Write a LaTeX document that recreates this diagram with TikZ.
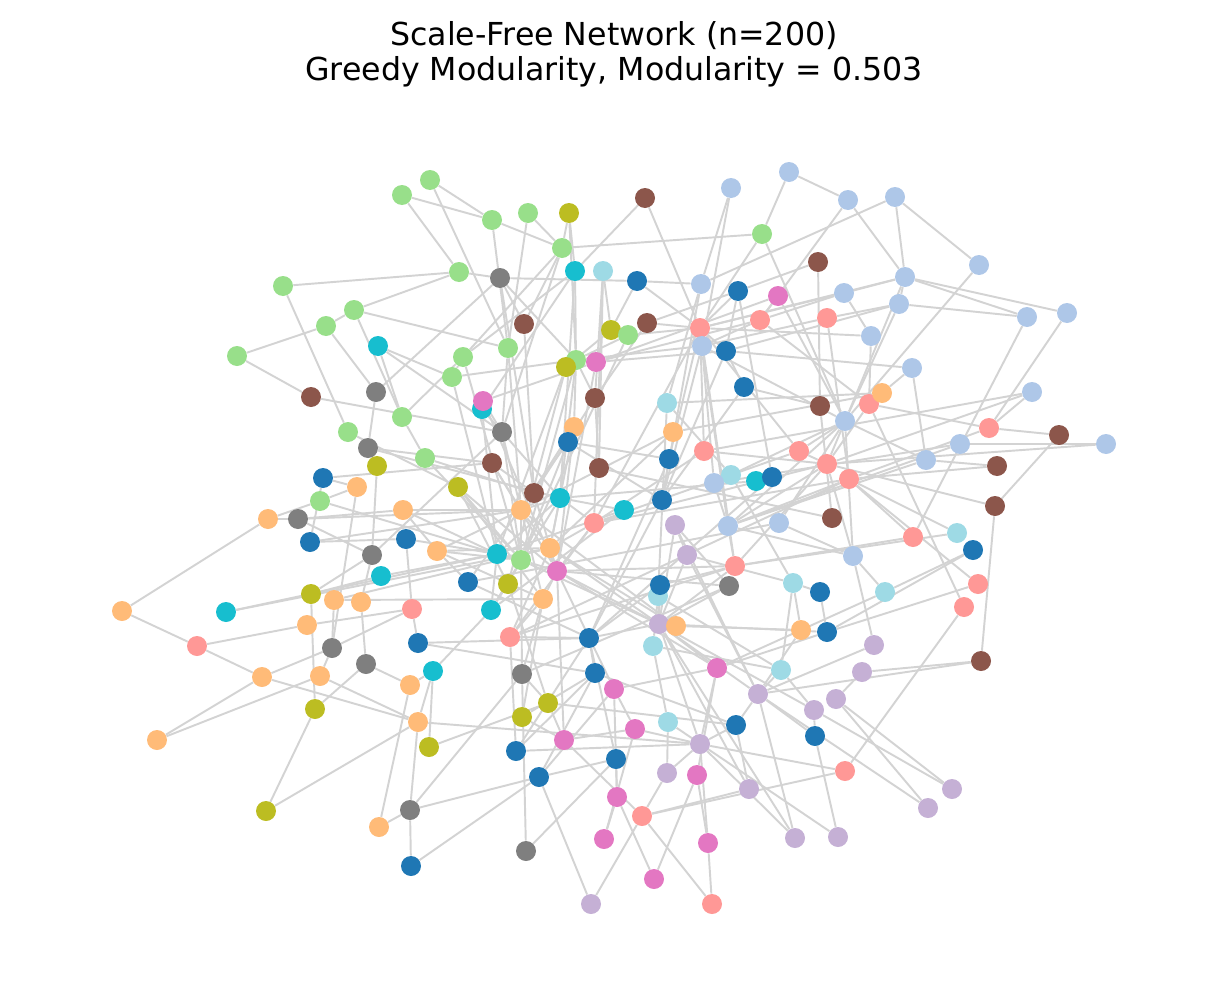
\documentclass[tikz,border=0pt]{standalone}
\usepackage{fontspec}
\setmainfont{DejaVu Sans}
\usepackage{tikz}
\usetikzlibrary{backgrounds}
\definecolor{cBlue}{RGB}{31,119,180}
\definecolor{cLBlue}{RGB}{174,199,232}
\definecolor{cOrange}{RGB}{255,187,120}
\definecolor{cGreen}{RGB}{152,223,138}
\definecolor{cRed}{RGB}{255,152,150}
\definecolor{cBrown}{RGB}{140,86,75}
\definecolor{cPink}{RGB}{227,119,194}
\definecolor{cGray}{RGB}{127,127,127}
\definecolor{cOlive}{RGB}{188,189,34}
\definecolor{cCyan}{RGB}{23,190,207}
\definecolor{cLCyan}{RGB}{158,218,229}
\definecolor{cLPurple}{RGB}{197,176,213}
\definecolor{edgeGray}{RGB}{211,211,211}
\tikzset{
  vertex/.style={circle, inner sep=0pt, minimum size=0.4cm, draw=none},
  link/.style={draw=edgeGray, line width=1.1pt},
  titleText/.style={anchor=base, font=\fontsize{18}{21}\selectfont}
}

\begin{document}
\begin{tikzpicture}[x=0.02cm, y=-0.02cm]
  \useasboundingbox (0,0) rectangle (1228,1001);
  \node[titleText] (title) at (614,45) {Scale-Free Network (n=200)};
  \node[titleText] (subtitle) at (614,80) {Greedy Modularity, Modularity = 0.503};

  % nodes, coloured by community
  \foreach \i/\x/\y/\col in {
    1/430/180/cGreen, 2/402/195/cGreen, 3/492/220/cGreen, 4/528/213/cGreen,
    5/569/213/cOlive, 6/645/198/cBrown, 7/731/188/cLBlue, 8/789/172/cLBlue,
    9/848/200/cLBlue, 10/895/197/cLBlue, 11/762/234/cGreen, 12/562/248/cGreen,
    13/283/286/cGreen, 14/459/272/cGreen, 15/500/278/cGray, 16/575/271/cCyan,
    17/603/271/cLCyan, 18/637/281/cBlue, 19/701/284/cLBlue, 20/738/291/cBlue,
    21/778/296/cPink, 22/818/262/cBrown, 23/844/293/cLBlue, 24/905/277/cLBlue,
    25/979/265/cLBlue, 26/899/304/cLBlue, 27/1027/317/cLBlue, 28/1067/313/cLBlue,
    29/354/310/cGreen, 30/326/326/cGreen, 31/524/324/cBrown, 32/611/330/cOlive,
    33/628/335/cGreen, 34/647/323/cBrown, 35/700/328/cRed, 36/760/320/cRed,
    37/827/318/cRed, 38/871/336/cLBlue, 39/237/356/cGreen, 40/378/346/cCyan,
    41/463/357/cGreen, 42/508/348/cGreen, 43/576/360/cGreen, 44/596/362/cPink,
    45/566/367/cOlive, 46/702/346/cLBlue, 47/726/351/cBlue, 48/912/368/cLBlue,
    49/452/377/cGreen, 50/376/392/cGray, 51/311/397/cBrown, 53/482/409/cCyan,
    52/483/401/cPink, 54/595/398/cBrown, 55/667/403/cLCyan, 56/744/387/cBlue,
    57/820/406/cBrown, 58/869/404/cRed, 59/882/393/cOrange, 60/845/421/cLBlue,
    61/1032/392/cLBlue, 62/402/417/cGreen, 63/348/432/cGreen, 64/368/448/cGray,
    65/502/432/cGray, 66/574/427/cOrange, 67/568/442/cBlue, 68/673/432/cOrange,
    69/704/451/cRed, 70/799/451/cRed, 71/960/444/cLBlue, 72/989/428/cRed,
    73/1059/435/cBrown, 74/1106/444/cLBlue, 75/377/466/cOlive, 76/425/458/cGreen,
    77/492/463/cBrown, 78/599/468/cBrown, 79/669/459/cBlue, 80/731/475/cLCyan,
    81/756/481/cCyan, 82/772/477/cBlue, 83/714/483/cLBlue, 84/827/464/cRed,
    85/849/479/cRed, 86/926/460/cLBlue, 87/997/466/cBrown, 88/323/478/cBlue,
    89/357/487/cOrange, 90/458/487/cOlive, 91/320/501/cGreen, 92/534/493/cBrown,
    93/560/498/cCyan, 94/624/510/cCyan, 95/662/500/cBlue, 96/268/519/cOrange,
    97/298/519/cGray, 98/403/510/cOrange, 99/521/510/cOrange, 100/594/523/cRed,
    101/675/525/cLPurple, 102/728/526/cLBlue, 103/779/523/cLBlue, 104/832/518/cBrown,
    105/995/506/cBrown, 106/310/542/cBlue, 107/406/539/cBlue, 108/437/551/cOrange,
    109/372/555/cGray, 110/497/554/cCyan, 111/521/560/cGreen, 112/550/548/cOrange,
    113/557/571/cPink, 114/687/555/cLPurple, 115/735/566/cRed, 116/853/556/cLBlue,
    117/913/537/cRed, 118/957/533/cLCyan, 119/973/550/cBlue, 120/381/576/cCyan,
    121/468/582/cBlue, 122/508/584/cOlive, 123/543/599/cOrange, 124/658/596/cLCyan,
    125/660/585/cBlue, 126/729/586/cGray, 127/793/583/cLCyan, 128/820/592/cBlue,
    129/885/592/cLCyan, 130/978/584/cRed, 131/122/611/cOrange, 132/226/612/cCyan,
    133/311/594/cOlive, 134/334/600/cOrange, 135/361/602/cOrange, 136/412/609/cRed,
    137/491/610/cCyan, 138/964/607/cRed, 139/307/625/cOrange, 140/510/637/cRed,
    141/589/638/cBlue, 142/659/624/cLPurple, 143/676/626/cOrange, 144/801/630/cOrange,
    145/827/632/cBlue, 146/197/646/cRed, 147/332/648/cGray, 148/418/643/cBlue,
    149/653/646/cLCyan, 150/874/645/cLPurple, 151/366/664/cGray, 152/262/677/cOrange,
    153/320/676/cOrange, 154/433/671/cCyan, 155/522/674/cGray, 156/595/673/cBlue,
    157/717/668/cPink, 158/781/670/cLCyan, 159/862/672/cLPurple, 160/981/661/cBrown,
    161/410/685/cOrange, 162/614/689/cPink, 163/758/694/cLPurple, 164/836/699/cLPurple,
    165/315/709/cOlive, 166/548/703/cOlive, 167/418/722/cOrange, 168/522/717/cOlive,
    169/668/722/cLCyan, 170/635/729/cPink, 171/736/725/cBlue, 172/814/710/cLPurple,
    173/157/740/cOrange, 174/429/747/cOlive, 175/516/751/cBlue, 176/564/740/cPink,
    177/700/744/cLPurple, 178/815/736/cBlue, 179/616/759/cBlue, 180/845/771/cRed,
    181/539/777/cBlue, 182/667/773/cLPurple, 183/697/775/cPink, 184/749/789/cLPurple,
    185/952/789/cLPurple, 186/928/808/cLPurple, 187/266/811/cOlive, 188/410/810/cGray,
    189/617/797/cPink, 190/642/816/cRed, 191/379/827/cOrange, 192/795/838/cLPurple,
    193/838/837/cLPurple, 194/604/839/cPink, 195/708/843/cPink, 196/526/851/cGray,
    197/411/866/cBlue, 198/654/879/cPink, 199/591/904/cLPurple, 200/712/904/cRed}
    \node[vertex, fill=\col] (v\i) at (\x,\y) {};

  % edges, behind the nodes
  \begin{scope}[on background layer]
  \foreach \a/\b in {
    2/3, 2/14, 1/3, 1/42, 13/14, 13/63, 29/14, 29/42, 29/62, 30/39, 30/29, 30/50,
    40/49, 40/65, 40/62, 50/15, 39/51, 51/65, 50/64, 62/41,
    3/12, 3/42, 4/42, 4/12, 5/16, 5/12, 5/43, 6/16, 6/35, 11/12, 8/11, 11/60,
    7/19, 7/46, 14/15, 15/18, 18/19, 15/43, 16/43, 16/41, 17/32, 18/32, 18/35,
    11/35, 12/41, 12/65, 31/12, 31/15, 31/92, 15/92, 16/93, 17/78, 17/100, 17/54,
    19/95, 20/35, 20/47, 20/82, 21/60, 21/44, 21/36, 32/45, 33/43, 33/35, 33/111,
    34/54, 34/35, 34/20, 35/69, 35/100, 35/115, 36/46, 36/58, 37/46, 41/111, 41/49,
    42/65, 42/99, 43/44, 43/111, 43/49, 43/46, 44/36, 44/47, 44/113, 45/110, 45/122,
    46/60, 46/102, 47/95, 49/110, 52/113, 52/44, 52/65, 53/93, 53/110, 53/16,
    54/92, 54/78, 55/124, 55/19, 56/47, 56/95, 57/104, 58/84,
    8/9, 9/24, 9/36, 10/25, 10/24, 10/19, 25/60, 24/23, 24/26, 26/27, 27/24, 27/117,
    28/24, 28/72, 23/38, 23/35, 23/36, 22/57, 22/20, 48/59, 48/47, 48/86, 37/26,
    37/85, 24/35, 26/47, 24/60, 26/60, 38/35, 38/58, 59/55, 61/69, 57/56, 59/68,
    60/83, 60/102,
    160/163, 160/105, 105/73, 105/84, 72/73, 74/71, 74/84, 87/86, 87/85, 72/61,
    72/85, 72/58, 61/84, 118/85, 118/115, 119/145, 130/85, 130/145, 138/58, 117/85,
    117/115, 129/116, 129/157, 129/119, 116/150, 116/60, 116/84, 150/163, 128/145,
    145/157, 127/144, 144/163, 127/114, 127/158, 127/128, 159/164, 159/160, 172/178,
    158/172, 145/142,
    64/75, 75/109, 64/77, 64/93, 63/90, 62/76, 88/77, 88/89, 91/89, 89/147, 91/110,
    97/98, 98/99, 107/136, 136/148, 120/110, 120/133,
    65/109, 66/99, 66/112, 66/43, 67/111, 67/95, 67/79, 67/121, 68/99, 68/112,
    69/84, 69/100, 70/84, 70/100, 70/35, 71/83, 71/102, 76/111, 76/92, 77/92,
    77/113, 78/104, 79/95, 79/141, 79/35, 80/83, 80/127, 80/55, 81/93, 81/82,
    82/141, 83/102, 84/100, 84/115, 85/100, 85/140, 86/102, 86/60, 90/122, 90/113,
    90/123, 92/113, 93/110, 93/137, 94/93, 94/110, 94/137, 95/141, 99/112, 99/123,
    99/111, 100/140, 101/142, 101/114, 101/163, 102/116, 103/60, 103/116, 103/121,
    106/107, 106/88, 108/99, 108/112, 108/123, 108/98, 110/137, 111/142, 111/113,
    111/155, 112/142, 112/140, 113/142, 113/162, 113/157, 113/176, 114/142, 114/163,
    115/140, 115/125, 121/141, 122/166, 123/155, 123/168, 125/142, 125/141, 124/149,
    124/158, 126/155, 126/142, 126/101, 134/123, 134/112, 137/154, 140/175, 141/156,
    141/175, 142/177, 142/163, 142/172, 142/184, 142/192, 143/99, 143/112, 143/144,
    148/156, 148/141, 149/169, 149/158, 156/171, 156/175, 157/162, 162/170, 163/178,
    166/171, 166/176, 168/176, 168/156, 170/176, 179/141, 181/156, 183/157, 161/154,
    181/179, 162/181, 167/177, 175/177,
    111/110, 111/122, 111/137, 111/90, 111/108, 113/123, 113/100, 113/66, 99/93,
    99/92, 99/77, 99/65, 112/93, 112/100, 142/141, 142/143, 142/124, 142/115,
    142/157, 163/171, 163/158, 177/157, 177/170, 35/46, 35/47, 46/95, 46/83, 60/84,
    60/70, 85/102, 84/102, 100/93, 93/43, 43/54, 111/65, 113/126, 113/115, 110/107,
    110/98, 121/108, 122/137, 140/123, 141/140, 155/166, 102/115,
    131/96, 131/146, 146/139, 146/152, 96/91, 96/97, 97/99, 97/109, 106/99, 132/110,
    132/112, 139/136, 133/109, 133/165, 135/109, 135/151, 147/136, 152/147, 152/173,
    152/167, 173/153, 153/167, 153/147, 165/187, 187/167, 151/165, 167/188, 167/154,
    161/191, 151/161, 191/188, 188/197, 188/181, 188/155, 197/181, 174/166, 174/154,
    196/155, 196/179, 199/181, 199/190, 198/183, 198/189, 200/195, 200/190, 195/183,
    195/177, 194/189, 194/170, 190/184, 190/176, 182/177, 182/169, 182/190, 189/179,
    189/162, 192/163, 192/177, 193/178, 193/169, 185/164, 185/172, 186/164, 186/163,
    180/138, 180/177, 180/190, 184/171, 177/171, 134/147}
    \draw[link] (v\a) -- (v\b);
  \end{scope}
\end{tikzpicture}
\end{document}
